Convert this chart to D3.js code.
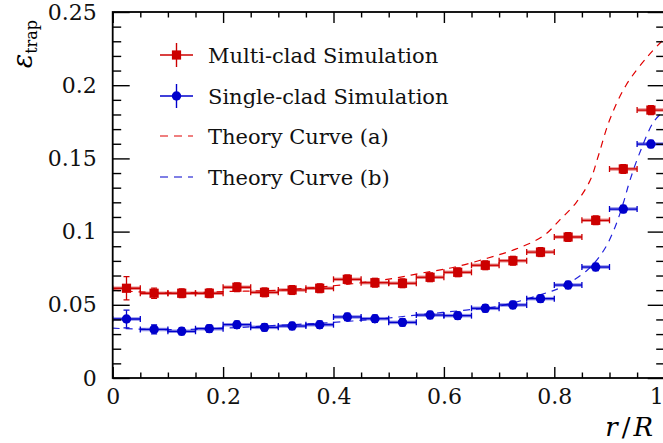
<!DOCTYPE html>
<html><head><meta charset="utf-8">
<script src="https://cdn.jsdelivr.net/npm/d3@7/dist/d3.min.js"></script>
<style>
body{margin:0;background:#fff}
svg{display:block}
</style>
</head><body>
<svg id="c" width="663" height="443"></svg>
<script>
// ---- data ----
const rBins = [0.025,0.075,0.125,0.175,0.225,0.275,0.325,0.375,0.425,0.475,0.525,0.575,0.625,0.675,0.725,0.775,0.825,0.875,0.925,0.975];
const binHalfWidth = 0.025;
const multiClad = [0.0613,0.0579,0.0579,0.0579,0.0620,0.0585,0.0601,0.0613,0.0674,0.0651,0.0647,0.0688,0.0722,0.0770,0.0801,0.0860,0.0963,0.1077,0.1428,0.1830];
const multiCladErr = [0.008,0.0035,0.003,0.003,0.003,0.003,0.003,0.003,0.003,0.003,0.003,0.003,0.003,0.003,0.003,0.003,0.003,0.003,0.003,0.003];
const singleClad = [0.0403,0.0332,0.0319,0.0337,0.0364,0.0346,0.0355,0.0364,0.0417,0.0405,0.0380,0.0430,0.0426,0.0476,0.0499,0.0542,0.0635,0.0758,0.1154,0.1598];
const singleCladErr = [0.006,0.003,0.0025,0.0025,0.0025,0.0025,0.0025,0.0025,0.0025,0.0025,0.0025,0.0025,0.0025,0.0025,0.0025,0.0025,0.0025,0.0025,0.0025,0.0025];
const theoryAr = [0,0.1,0.2,0.3,0.4,0.5,0.56,0.62,0.68,0.73,0.78,0.81,0.84,0.865,0.88,0.9,0.93,0.97,1.0];
const theoryA  = [0.060,0.058,0.059,0.060,0.063,0.0675,0.0717,0.0758,0.082,0.088,0.097,0.108,0.120,0.135,0.152,0.176,0.200,0.220,0.232];
const theoryBr = [0,0.1,0.2,0.3,0.4,0.5,0.55,0.64,0.70,0.79,0.81,0.86,0.89,0.91,0.925,0.937,0.955,0.98,1.0];
const theoryB  = [0.034,0.033,0.034,0.036,0.038,0.041,0.043,0.0464,0.049,0.0587,0.0615,0.0738,0.0874,0.103,0.1195,0.135,0.154,0.175,0.183];
const xTicks = [0,0.2,0.4,0.6,0.8,1];
const xTickLabels = ["0","0.2","0.4","0.6","0.8","1"];
const xMinorTicks = [0.05,0.1,0.15,0.25,0.3,0.35,0.45,0.5,0.55,0.65,0.7,0.75,0.85,0.9,0.95];
const yTicks = [0,0.05,0.1,0.15,0.2,0.25];
const yTickLabels = ["0","0.05","0.1","0.15","0.2","0.25"];
const yMinorTicks = [0.01,0.02,0.03,0.04,0.06,0.07,0.08,0.09,0.11,0.12,0.13,0.14,0.16,0.17,0.18,0.19,0.21,0.22,0.23,0.24];
const legendLabels = ["Multi-clad Simulation","Single-clad Simulation","Theory Curve (a)","Theory Curve (b)"];

// ---- layout ----
const FONT = "'DejaVu Serif', serif";
const L = 112.7, R = 664.7, T = 12, B = 378;
const red = "#cc0000", blue = "#0000cc";
const svg = d3.select("#c");
const x = d3.scaleLinear([0,1],[L,R]);
const y = d3.scaleLinear([0,0.25],[B,T]);

svg.append("defs").append("clipPath").attr("id","clip")
  .append("rect").attr("x",L).attr("y",T).attr("width",R-L).attr("height",B-T);

const line = d3.line().x(d=>x(d[0])).y(d=>y(d[1])).curve(d3.curveCatmullRom.alpha(0.5));
const plot = svg.append("g").attr("clip-path","url(#clip)");
plot.append("path").datum(theoryAr.map((r,i)=>[r,theoryA[i]]))
  .attr("d",line).attr("fill","none").attr("stroke","#e00000").attr("stroke-width",1.2).attr("stroke-dasharray","7,6");
plot.append("path").datum(theoryBr.map((r,i)=>[r,theoryB[i]]))
  .attr("d",line).attr("fill","none").attr("stroke","#2222dd").attr("stroke-width",1.2).attr("stroke-dasharray","7,6");

function series(vals, errs, color, shape){
  const g = plot.append("g");
  const pts = rBins.map((r,i)=>({r, v:vals[i], e:errs[i]}));
  g.selectAll(".hb").data(pts).join("line")
    .attr("x1",d=>x(d.r-binHalfWidth)).attr("x2",d=>x(d.r+binHalfWidth))
    .attr("y1",d=>y(d.v)).attr("y2",d=>y(d.v))
    .attr("stroke",color).attr("stroke-opacity",0.45).attr("stroke-width",3.5);
  g.selectAll(".h").data(pts).join("line")
    .attr("x1",d=>x(d.r-binHalfWidth)).attr("x2",d=>x(d.r+binHalfWidth))
    .attr("y1",d=>y(d.v)).attr("y2",d=>y(d.v))
    .attr("stroke",color).attr("stroke-width",1.3);
  [-1,1].forEach(s=>{
    g.selectAll(".c"+s).data(pts).join("line")
      .attr("x1",d=>x(d.r+s*binHalfWidth)).attr("x2",d=>x(d.r+s*binHalfWidth))
      .attr("y1",d=>y(d.v)-3).attr("y2",d=>y(d.v)+3)
      .attr("stroke",color).attr("stroke-width",1.3);
  });
  g.selectAll(".v").data(pts).join("line")
    .attr("x1",d=>x(d.r)).attr("x2",d=>x(d.r))
    .attr("y1",d=>y(d.v-d.e)).attr("y2",d=>y(d.v+d.e))
    .attr("stroke",color).attr("stroke-width",1.3);
  [-1,1].forEach(s=>{
    g.selectAll(".vc"+s).data(pts).join("line")
      .attr("x1",d=>x(d.r)-3).attr("x2",d=>x(d.r)+3)
      .attr("y1",d=>y(d.v+s*d.e)).attr("y2",d=>y(d.v+s*d.e))
      .attr("stroke",color).attr("stroke-width",1.3);
  });
  if(shape==="square"){
    g.selectAll(".m").data(pts).join("rect")
      .attr("x",d=>x(d.r)-4.6).attr("y",d=>y(d.v)-4.6).attr("width",9.2).attr("height",9.2)
      .attr("fill",color);
  } else {
    g.selectAll(".m").data(pts).join("circle")
      .attr("cx",d=>x(d.r)).attr("cy",d=>y(d.v)).attr("r",4.7).attr("fill",color);
  }
}
series(multiClad, multiCladErr, red, "square");
series(singleClad, singleCladErr, blue, "circle");

const fsTick = 22;
const xIdx = d => xTicks.indexOf(d);
const yIdx = d => yTicks.indexOf(d);
function styleAxis(g){
  g.attr("font-family",null).attr("font-size",null);
  g.select(".domain").remove();
  g.selectAll("line").attr("stroke","#000").attr("stroke-width",1.4);
  g.selectAll("text").style("font-family",FONT).style("font-size",fsTick+"px").attr("fill","#111");
}

const xAxisG = svg.append("g").attr("transform",`translate(0,${B})`)
  .call(d3.axisBottom(x).tickValues(xTicks).tickSizeInner(-11).tickSizeOuter(0).tickPadding(10).tickFormat(d=>xTickLabels[xIdx(d)]))
  .call(styleAxis);
xAxisG.selectAll(".tick text").filter(d=>d===1).attr("text-anchor","end").attr("dx",-1.5);
svg.append("g").attr("transform",`translate(0,${B})`)
  .call(d3.axisBottom(x).tickValues(xMinorTicks).tickSizeInner(-5.5).tickSizeOuter(0).tickFormat(""))
  .call(styleAxis);
svg.append("g").attr("transform",`translate(0,${T})`)
  .call(d3.axisTop(x).tickValues(xTicks).tickSizeInner(-11).tickSizeOuter(0).tickFormat(""))
  .call(styleAxis);
svg.append("g").attr("transform",`translate(0,${T})`)
  .call(d3.axisTop(x).tickValues(xMinorTicks).tickSizeInner(-5.5).tickSizeOuter(0).tickFormat(""))
  .call(styleAxis);
svg.append("g").attr("transform",`translate(${L},0)`)
  .call(d3.axisLeft(y).tickValues(yTicks).tickSizeInner(-17).tickSizeOuter(0).tickPadding(16).tickFormat(d=>yTickLabels[yIdx(d)]))
  .call(styleAxis);
svg.append("g").attr("transform",`translate(${L},0)`)
  .call(d3.axisLeft(y).tickValues(yMinorTicks).tickSizeInner(-8.5).tickSizeOuter(0).tickFormat(""))
  .call(styleAxis);
svg.append("g").attr("transform",`translate(${R},0)`)
  .call(d3.axisRight(y).tickValues(yTicks).tickSizeInner(-17).tickSizeOuter(0).tickFormat(""))
  .call(styleAxis);
svg.append("g").attr("transform",`translate(${R},0)`)
  .call(d3.axisRight(y).tickValues(yMinorTicks).tickSizeInner(-8.5).tickSizeOuter(0).tickFormat(""))
  .call(styleAxis);

svg.append("rect").attr("x",L).attr("y",T).attr("width",R-L).attr("height",B-T)
  .attr("fill","none").attr("stroke","#000").attr("stroke-width",1.8);

const xt = svg.append("text").attr("x",653).attr("y",436).attr("text-anchor","end")
  .style("font-family",FONT).style("font-size","26px");
xt.append("tspan").style("font-style","italic").text("r");
xt.append("tspan").attr("dx",4).text("/");
xt.append("tspan").attr("dx",3).style("font-style","italic").text("R");
const yt = svg.append("text").attr("transform","translate(32,20) rotate(-90)").attr("text-anchor","end")
  .style("font-family",FONT).style("font-size","27px");
yt.append("tspan").style("font-style","italic").text("ε");
yt.append("tspan").attr("dy",5).style("font-size","16px").text("trap");

const legY = [55,96,136,177];
const lx0 = 160, lx1 = 193, lxm = 176.5;
const lg = svg.append("g");
lg.append("line").attr("x1",lx0).attr("x2",lx1).attr("y1",legY[0]).attr("y2",legY[0]).attr("stroke",red).attr("stroke-width",1.4);
lg.append("line").attr("x1",lxm).attr("x2",lxm).attr("y1",legY[0]-12).attr("y2",legY[0]+12).attr("stroke",red).attr("stroke-width",1.4);
lg.append("rect").attr("x",lxm-4.6).attr("y",legY[0]-4.6).attr("width",9.2).attr("height",9.2).attr("fill",red);
lg.append("line").attr("x1",lx0).attr("x2",lx1).attr("y1",legY[1]).attr("y2",legY[1]).attr("stroke",blue).attr("stroke-width",1.4);
lg.append("line").attr("x1",lxm).attr("x2",lxm).attr("y1",legY[1]-12).attr("y2",legY[1]+12).attr("stroke",blue).attr("stroke-width",1.4);
lg.append("circle").attr("cx",lxm).attr("cy",legY[1]).attr("r",4.7).attr("fill",blue);
lg.append("line").attr("x1",lx0).attr("x2",lx1).attr("y1",legY[2]).attr("y2",legY[2]).attr("stroke","#e00000").attr("stroke-width",1.2).attr("stroke-dasharray","8,6");
lg.append("line").attr("x1",lx0).attr("x2",lx1).attr("y1",legY[3]).attr("y2",legY[3]).attr("stroke","#5555dd").attr("stroke-width",1.4).attr("stroke-dasharray","8,6");
lg.selectAll(".lt").data(legendLabels).join("text")
  .attr("x",208).attr("y",(d,i)=>legY[i]+8)
  .style("font-family",FONT).style("font-size","21px").attr("fill","#111").text(d=>d);
</script>
</body></html>
